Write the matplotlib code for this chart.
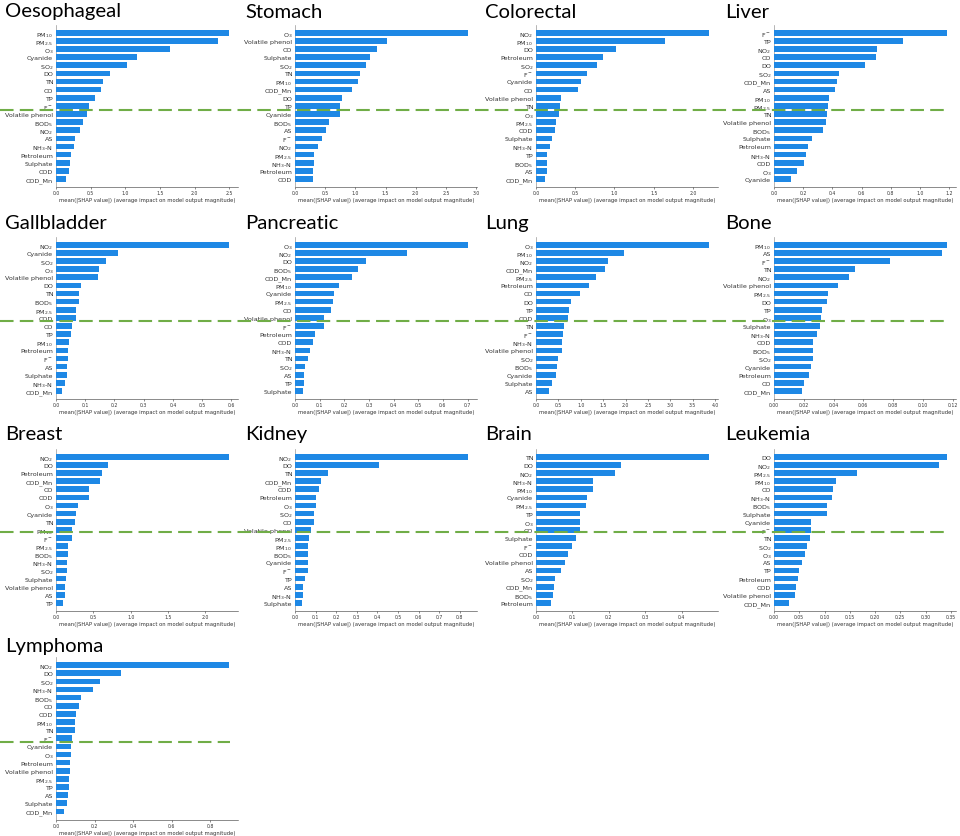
import numpy as np
import matplotlib
matplotlib.use('Agg')
import matplotlib.pyplot as plt
from matplotlib.lines import Line2D

# ---- data: mean(|SHAP value|) per cancer, features in plotted order (top -> bottom)
cancers = ['Oesophageal', 'Stomach', 'Colorectal', 'Liver',
           'Gallbladder', 'Pancreatic', 'Lung', 'Bone',
           'Breast', 'Kidney', 'Brain', 'Leukemia', 'Lymphoma']

oesophageal_feat = ['PM10', 'PM2.5', 'O3', 'Cyanide', 'SO2', 'DO', 'TN', 'CO', 'TP', 'F-',
                    'Volatile phenol', 'BOD5', 'NO2', 'AS', 'NH3-N', 'Petroleum', 'Sulphate', 'COD', 'COD_Mn']
oesophageal_val = [2.50, 2.33, 1.65, 1.17, 1.02, 0.78, 0.68, 0.645, 0.56, 0.48,
                   0.44, 0.39, 0.34, 0.275, 0.265, 0.22, 0.20, 0.19, 0.15]

stomach_feat = ['O3', 'Volatile phenol', 'CO', 'Sulphate', 'SO2', 'TN', 'PM10', 'COD_Mn', 'DO', 'TP',
                'Cyanide', 'BOD5', 'AS', 'F-', 'NO2', 'PM2.5', 'NH3-N', 'Petroleum', 'COD']
stomach_val = [2.87, 1.52, 1.35, 1.25, 1.17, 1.07, 1.05, 0.94, 0.78, 0.75,
               0.745, 0.56, 0.51, 0.45, 0.38, 0.32, 0.31, 0.30, 0.295]

colorectal_feat = ['NO2', 'PM10', 'DO', 'Petroleum', 'SO2', 'F-', 'Cyanide', 'CO', 'Volatile phenol', 'TN',
                   'O3', 'PM2.5', 'COD', 'Sulphate', 'NH3-N', 'TP', 'BOD5', 'AS', 'COD_Mn']
colorectal_val = [2.21, 1.65, 1.02, 0.86, 0.78, 0.65, 0.57, 0.53, 0.32, 0.31,
                  0.29, 0.26, 0.24, 0.20, 0.18, 0.145, 0.145, 0.135, 0.12]

liver_feat = ['F-', 'TP', 'NO2', 'CO', 'DO', 'SO2', 'COD_Mn', 'AS', 'PM10', 'PM2.5',
              'TN', 'Volatile phenol', 'BOD5', 'Sulphate', 'Petroleum', 'NH3-N', 'COD', 'O3', 'Cyanide']
liver_val = [1.187, 0.88, 0.705, 0.70, 0.62, 0.443, 0.434, 0.42, 0.38, 0.37,
             0.363, 0.354, 0.336, 0.263, 0.233, 0.219, 0.205, 0.158, 0.114]

gallbladder_feat = ['NO2', 'Cyanide', 'SO2', 'O3', 'Volatile phenol', 'DO', 'TN', 'BOD5', 'PM2.5', 'COD',
                    'CO', 'TP', 'PM10', 'Petroleum', 'F-', 'AS', 'Sulphate', 'NH3-N', 'COD_Mn']
gallbladder_val = [0.593, 0.211, 0.172, 0.146, 0.142, 0.084, 0.079, 0.077, 0.069, 0.068,
                   0.056, 0.050, 0.046, 0.042, 0.042, 0.039, 0.036, 0.031, 0.020]

pancreatic_feat = ['O3', 'NO2', 'DO', 'BOD5', 'COD_Mn', 'PM10', 'Cyanide', 'PM2.5', 'CO', 'Volatile phenol',
                   'F-', 'Petroleum', 'COD', 'NH3-N', 'TN', 'SO2', 'AS', 'TP', 'Sulphate']
pancreatic_val = [0.703, 0.453, 0.289, 0.254, 0.231, 0.179, 0.160, 0.155, 0.148, 0.118,
                  0.117, 0.081, 0.072, 0.061, 0.053, 0.042, 0.038, 0.035, 0.031]

lung_feat = ['O3', 'PM10', 'NO2', 'COD_Mn', 'PM2.5', 'Petroleum', 'CO', 'DO', 'TP', 'COD',
             'TN', 'F-', 'NH3-N', 'Volatile phenol', 'SO2', 'BOD5', 'Cyanide', 'Sulphate', 'AS']
lung_val = [3.87, 1.96, 1.61, 1.54, 1.35, 1.18, 0.98, 0.78, 0.74, 0.72,
            0.62, 0.61, 0.59, 0.58, 0.50, 0.46, 0.45, 0.36, 0.29]

bone_feat = ['PM10', 'AS', 'F-', 'TN', 'NO2', 'Volatile phenol', 'PM2.5', 'DO', 'TP', 'O3',
             'Sulphate', 'NH3-N', 'COD', 'BOD5', 'SO2', 'Cyanide', 'Petroleum', 'CO', 'COD_Mn']
bone_val = [0.1164, 0.1129, 0.0776, 0.0547, 0.0506, 0.0433, 0.0364, 0.0355, 0.0321, 0.0315,
            0.031, 0.0288, 0.0265, 0.0261, 0.0259, 0.025, 0.0234, 0.020, 0.019]

breast_feat = ['NO2', 'DO', 'Petroleum', 'COD_Mn', 'CO', 'COD', 'O3', 'Cyanide', 'TN', 'PM10',
               'F-', 'PM2.5', 'BOD5', 'NH3-N', 'SO2', 'Sulphate', 'Volatile phenol', 'AS', 'TP']
breast_val = [2.32, 0.69, 0.61, 0.59, 0.44, 0.44, 0.30, 0.27, 0.25, 0.22,
              0.21, 0.16, 0.16, 0.15, 0.145, 0.13, 0.12, 0.12, 0.09]

kidney_feat = ['NO2', 'DO', 'TN', 'COD_Mn', 'COD', 'Petroleum', 'O3', 'SO2', 'CO', 'Volatile phenol',
               'PM2.5', 'PM10', 'BOD5', 'Cyanide', 'F-', 'TP', 'AS', 'NH3-N', 'Sulphate']
kidney_val = [0.842, 0.41, 0.159, 0.124, 0.117, 0.104, 0.101, 0.093, 0.091, 0.076,
              0.070, 0.065, 0.065, 0.063, 0.062, 0.050, 0.037, 0.037, 0.036]

brain_feat = ['TN', 'DO', 'NO2', 'NH3-N', 'PM10', 'Cyanide', 'PM2.5', 'TP', 'O3', 'CO',
              'Sulphate', 'F-', 'COD', 'Volatile phenol', 'AS', 'SO2', 'COD_Mn', 'BOD5', 'Petroleum']
brain_val = [0.476, 0.233, 0.218, 0.157, 0.157, 0.141, 0.137, 0.122, 0.122, 0.121,
             0.109, 0.099, 0.089, 0.079, 0.070, 0.052, 0.049, 0.046, 0.042]

leukemia_feat = ['DO', 'NO2', 'PM2.5', 'PM10', 'CO', 'NH3-N', 'BOD5', 'Sulphate', 'Cyanide', 'F-',
                 'TN', 'SO2', 'O3', 'AS', 'TP', 'Petroleum', 'COD', 'Volatile phenol', 'COD_Mn']
leukemia_val = [0.343, 0.327, 0.164, 0.122, 0.117, 0.115, 0.105, 0.105, 0.074, 0.074,
                0.071, 0.065, 0.061, 0.055, 0.049, 0.047, 0.043, 0.042, 0.029]

lymphoma_feat = ['NO2', 'DO', 'SO2', 'NH3-N', 'BOD5', 'CO', 'COD', 'PM10', 'TN', 'F-',
                 'Cyanide', 'O3', 'Petroleum', 'Volatile phenol', 'PM2.5', 'TP', 'AS', 'Sulphate', 'COD_Mn']
lymphoma_val = [0.90, 0.34, 0.23, 0.19, 0.13, 0.12, 0.105, 0.10, 0.10, 0.085,
                0.08, 0.08, 0.075, 0.075, 0.07, 0.065, 0.06, 0.055, 0.04]

features = [oesophageal_feat, stomach_feat, colorectal_feat, liver_feat,
            gallbladder_feat, pancreatic_feat, lung_feat, bone_feat,
            breast_feat, kidney_feat, brain_feat, leukemia_feat, lymphoma_feat]
values = [oesophageal_val, stomach_val, colorectal_val, liver_val,
          gallbladder_val, pancreatic_val, lung_val, bone_val,
          breast_val, kidney_val, brain_val, leukemia_val, lymphoma_val]

# display labels with sub/superscripts
labels = {'PM10': 'PM$_{10}$', 'PM2.5': 'PM$_{2.5}$', 'O3': 'O$_3$', 'SO2': 'SO$_2$',
          'NO2': 'NO$_2$', 'BOD5': 'BOD$_5$', 'NH3-N': 'NH$_3$-N', 'F-': 'F$^-$'}

# ---- layout (pixels)
W, H = 960, 837
col_left = [56, 295, 536, 774]
row_top = [25.6, 237.6, 449.6, 658]
AX_W, AX_H = 182, 162.5
cutoff_y = [110.5, 321.7, 533.3, 742.5]
cutoff_x1 = [950, 944, 944, 230]

blue = '#1E88E5'
axis_color = '#333333'

fig = plt.figure(figsize=(W / 100, H / 100), dpi=100)

for k, name in enumerate(cancers):
    r, c = divmod(k, 4)
    feats, vals = features[k], values[k]
    n = len(feats)
    ax = fig.add_axes([col_left[c] / W, 1 - (row_top[r] + AX_H) / H, AX_W / W, AX_H / H])
    y = np.arange(n)[::-1]
    ax.barh(y, vals, 0.7, align='center', color=blue)
    ax.axvline(0, color='#999999', lw=0.5, zorder=-1)
    ax.set_yticks(y)
    ax.set_yticklabels([labels.get(f, f) for f in feats])
    ax.set_ylim(-1, n)
    ax.set_xlim(0, max(vals) * 1.05)
    for s in ['top', 'right', 'left']:
        ax.spines[s].set_visible(False)
    ax.spines['bottom'].set_color(axis_color)
    ax.spines['bottom'].set_linewidth(0.4)
    ax.tick_params('y', length=0, pad=2, labelsize=4.6, labelcolor=axis_color)
    ax.tick_params('x', length=1.2, width=0.4, pad=1, labelsize=3.3,
                   color=axis_color, labelcolor=axis_color)
    ax.set_xlabel('mean(|SHAP value|) (average impact on model output magnitude)',
                  fontsize=3.8, color=axis_color, labelpad=1.2)
    fig.text((c * 240 + 5) / W, 1 - (17.5 + 211.5 * r) / H, name, fontsize=14.6,
             family=['Lato', 'DejaVu Sans'], va='baseline', ha='left', color='black')

# dashed cut-off lines across each row
for yy, x1 in zip(cutoff_y, cutoff_x1):
    fig.add_artist(Line2D([0, x1 / W], [1 - yy / H, 1 - yy / H], transform=fig.transFigure,
                          color='#70AD47', lw=1.5, linestyle=(0, (6.5, 3.0)), zorder=5))

fig.savefig('out.png', dpi=100)
